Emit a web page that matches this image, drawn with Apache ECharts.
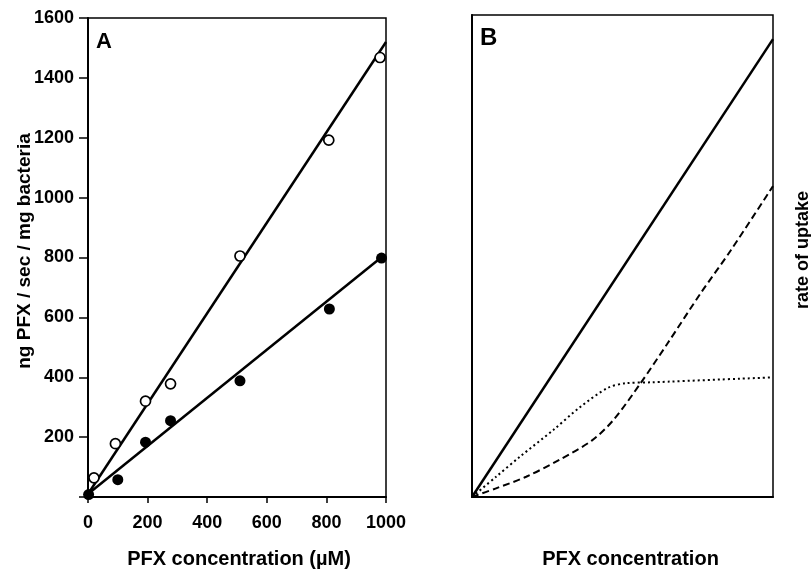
<!DOCTYPE html>
<html lang="en">
<head>
    <meta charset="UTF-8">
    <title>PFX uptake</title>
    <script src="https://cdn.jsdelivr.net/npm/echarts@6/dist/echarts.min.js"></script>
</head>
<body style="margin: 0; background: #fff">
    <div id="container" style="width: 811px; height: 569px"></div>
    <script type="text/javascript">
        // panel A: measured points [PFX uM, ng/sec/mg]
        var openPoints = [[20, 64], [92, 178], [193, 320], [277, 378], [510, 805], [808, 1192], [980, 1468]];
        var filledPoints = [[2, 8], [100, 58], [193, 183], [277, 255], [510, 388], [810, 628], [985, 798]];
        var openFit = [[0, 10], [1000, 1520]];
        var filledFit = [[0, 10], [990, 805]];
        var xTicks = [0, 200, 400, 600, 800, 1000];
        var yTicks = [200, 400, 600, 800, 1000, 1200, 1400, 1600];

        // panel B: schematic curves (arbitrary units 0-100)
        var solidB = [[0, 0], [100, 95]];
        var dashedB = [[0, 0], [8, 1.8], [18, 4.2], [29, 7.7], [40, 11.8], [47, 16], [56, 23.6], [65, 31.9], [76, 42.3], [86, 51.2], [100, 64.5]];
        var dottedB = [[0, 0], [8, 4.2], [16, 8.4], [27, 13.9], [36, 18.7], [45, 22.6], [51, 23.6], [60, 23.8], [99, 24.8]];

        var font = 'Liberation Sans, Arial, sans-serif';
        var black = '#000';

        var myChart = echarts.init(document.getElementById('container'), null, { renderer: 'canvas' });

        var option = {
            backgroundColor: '#fff',
            animation: false,
            textStyle: { fontFamily: font, color: black },
            grid: [
                { left: 88, right: 425, top: 18, bottom: 72, show: true, borderColor: black, borderWidth: 1.5, outerBoundsMode: 'none', containLabel: false },
                { left: 472, right: 38, top: 15, bottom: 72, show: true, borderColor: black, borderWidth: 1.5, outerBoundsMode: 'none', containLabel: false }
            ],
            xAxis: [
                {
                    gridIndex: 0, type: 'value', min: 0, max: 1000, interval: 200,
                    name: 'PFX concentration (\u00b5M)', nameLocation: 'middle', nameGap: 52, nameMoveOverlap: false,
                    nameTextStyle: { fontSize: 20, fontWeight: 'bold', color: black, padding: [0, 0, 0, 4] },
                    axisLine: { lineStyle: { color: black, width: 2 } },
                    axisTick: { show: true, length: 6, lineStyle: { color: black, width: 1.5 } },
                    axisLabel: {
                        margin: 17, fontSize: 18, fontWeight: 'bold', color: black,
                        formatter: function (v) { return xTicks.indexOf(v) >= 0 ? String(v) : ''; }
                    },
                    splitLine: { show: false }
                },
                {
                    gridIndex: 1, type: 'value', min: 0, max: 100,
                    name: 'PFX concentration', nameLocation: 'middle', nameGap: 52, nameMoveOverlap: false,
                    nameTextStyle: { fontSize: 20, fontWeight: 'bold', color: black, padding: [0, 0, 0, 16] },
                    axisLine: { lineStyle: { color: black, width: 2 } },
                    axisTick: { show: false },
                    axisLabel: { show: false },
                    splitLine: { show: false }
                }
            ],
            yAxis: [
                {
                    gridIndex: 0, type: 'value', min: 0, max: 1600, interval: 200,
                    axisLine: { lineStyle: { color: black, width: 2 } },
                    axisTick: { show: true, length: 9, lineStyle: { color: black, width: 1.5 } },
                    axisLabel: {
                        margin: 14, fontSize: 18, fontWeight: 'bold', color: black,
                        formatter: function (v) { return yTicks.indexOf(v) >= 0 ? String(v) : ''; }
                    },
                    splitLine: { show: false }
                },
                {
                    gridIndex: 1, type: 'value', min: 0, max: 100,
                    axisLine: { lineStyle: { color: black, width: 2 } },
                    axisTick: { show: false },
                    axisLabel: { show: false },
                    splitLine: { show: false }
                }
            ],
            graphic: [
                { type: 'text', left: 96, top: 31, style: { text: 'A', font: 'bold 22px ' + font, fill: black } },
                { type: 'text', left: 480, top: 26, style: { text: 'B', font: 'bold 24px ' + font, fill: black } },
                {
                    type: 'text', x: 25, y: 251, rotation: Math.PI / 2,
                    style: { text: 'ng PFX / sec / mg bacteria', font: 'bold 19px ' + font, fill: black, textAlign: 'center', textVerticalAlign: 'middle' }
                },
                {
                    type: 'text', x: 803, y: 250, rotation: Math.PI / 2,
                    style: { text: 'rate of uptake', font: 'bold 18px ' + font, fill: black, textAlign: 'center', textVerticalAlign: 'middle' }
                }
            ],
            series: [
                {
                    type: 'line', xAxisIndex: 0, yAxisIndex: 0, data: openFit, showSymbol: false,
                    lineStyle: { color: black, width: 2.5 }
                },
                {
                    type: 'line', xAxisIndex: 0, yAxisIndex: 0, data: filledFit, showSymbol: false,
                    lineStyle: { color: black, width: 2.5 }
                },
                {
                    type: 'scatter', xAxisIndex: 0, yAxisIndex: 0, data: openPoints, symbol: 'circle', symbolSize: 10,
                    itemStyle: { color: '#fff', borderColor: black, borderWidth: 1.7, opacity: 1 }, z: 5, clip: false
                },
                {
                    type: 'scatter', xAxisIndex: 0, yAxisIndex: 0, data: filledPoints, symbol: 'circle', symbolSize: 11,
                    itemStyle: { color: black, opacity: 1 }, z: 6, clip: false
                },
                {
                    type: 'line', xAxisIndex: 1, yAxisIndex: 1, data: solidB, showSymbol: false,
                    lineStyle: { color: black, width: 2.5 }
                },
                {
                    type: 'line', xAxisIndex: 1, yAxisIndex: 1, data: dashedB, showSymbol: false, smooth: 0.3,
                    lineStyle: { color: black, width: 2, type: [7, 4] }
                },
                {
                    type: 'line', xAxisIndex: 1, yAxisIndex: 1, data: dottedB, showSymbol: false, smooth: 0.3,
                    lineStyle: { color: black, width: 2, type: [2, 3] }
                }
            ]
        };

        myChart.setOption(option);
        window.addEventListener('resize', myChart.resize);
    </script>
</body>
</html>
